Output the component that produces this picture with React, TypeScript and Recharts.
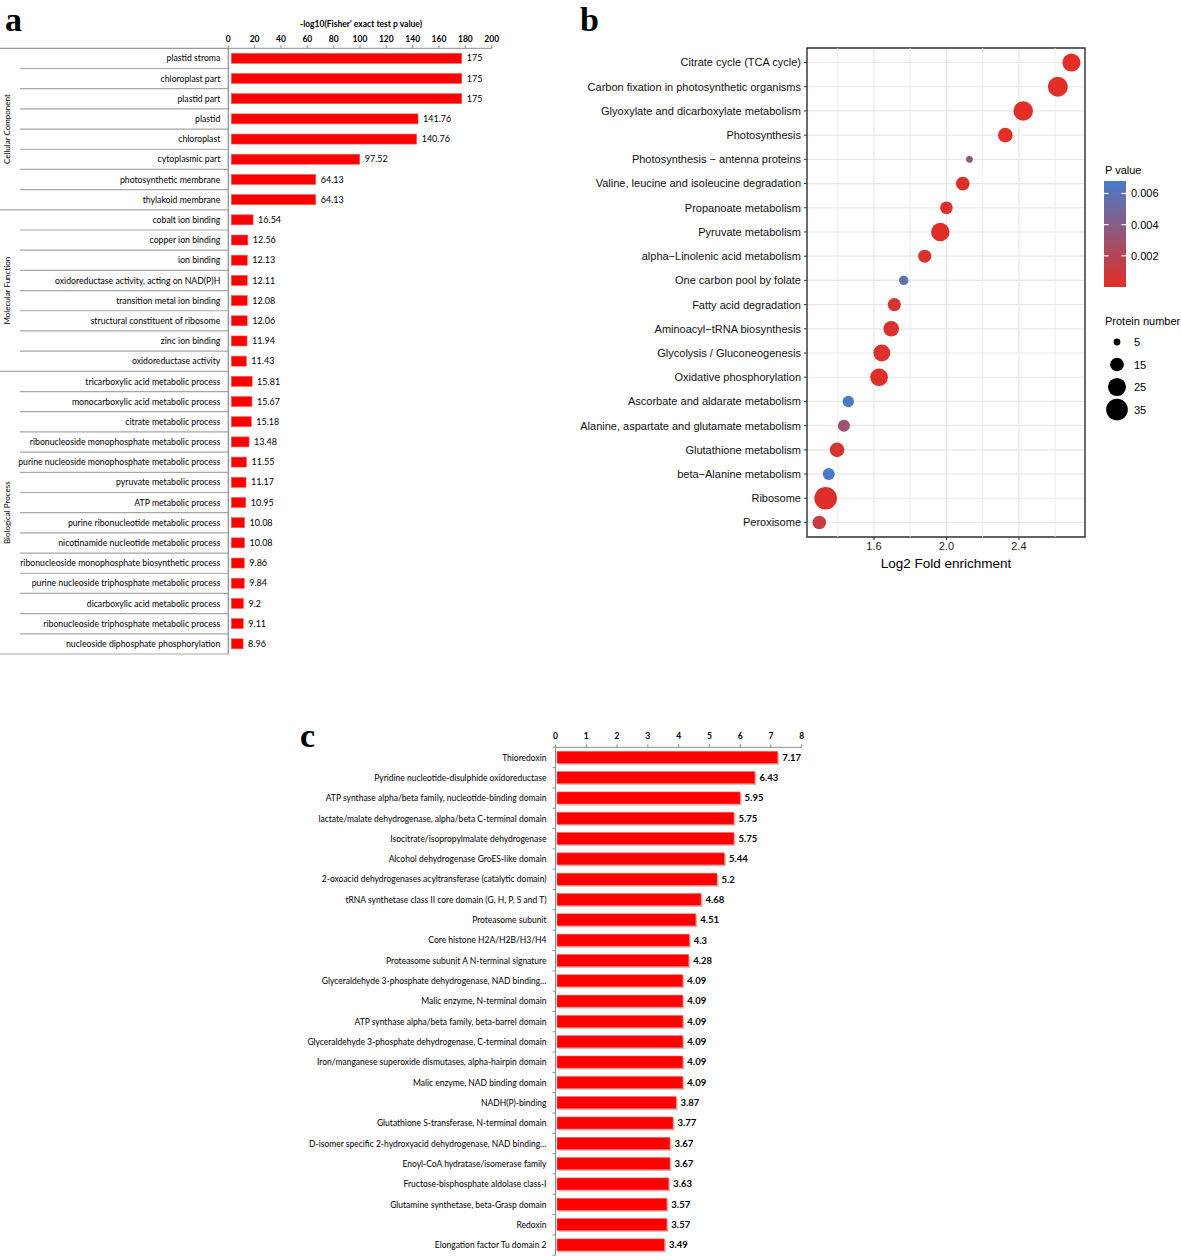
import React from 'react';
import {
  BarChart, Bar, XAxis, YAxis, LabelList, ScatterChart, Scatter, ZAxis,
  CartesianGrid, ReferenceLine, ReferenceArea, Cell,
} from 'recharts';

// ---- panel a : GO enrichment ----
const ccTerms = ['plastid stroma', 'chloroplast part', 'plastid part', 'plastid', 'chloroplast', 'cytoplasmic part', 'photosynthetic membrane', 'thylakoid membrane'];
const ccValues = [175, 175, 175, 141.76, 140.76, 97.52, 64.13, 64.13];
const mfTerms = ['cobalt ion binding', 'copper ion binding', 'ion binding', 'oxidoreductase activity, acting on NAD(P)H', 'transition metal ion binding', 'structural constituent of ribosome', 'zinc ion binding', 'oxidoreductase activity'];
const mfValues = [16.54, 12.56, 12.13, 12.11, 12.08, 12.06, 11.94, 11.43];
const bpTerms = ['tricarboxylic acid metabolic process', 'monocarboxylic acid metabolic process', 'citrate metabolic process', 'ribonucleoside monophosphate metabolic process', 'purine nucleoside monophosphate metabolic process', 'pyruvate metabolic process', 'ATP metabolic process', 'purine ribonucleotide metabolic process', 'nicotinamide nucleotide metabolic process', 'ribonucleoside monophosphate biosynthetic process', 'purine nucleoside triphosphate metabolic process', 'dicarboxylic acid metabolic process', 'ribonucleoside triphosphate metabolic process', 'nucleoside diphosphate phosphorylation'];
const bpValues = [15.81, 15.67, 15.18, 13.48, 11.55, 11.17, 10.95, 10.08, 10.08, 9.86, 9.84, 9.2, 9.11, 8.96];
const groupNames = ['Cellular Component', 'Molecular Function', 'Biological Process'];
const aTicks = [0, 20, 40, 60, 80, 100, 120, 140, 160, 180, 200];

// ---- panel b : KEGG bubble ----
const pathways = ['Citrate cycle (TCA cycle)', 'Carbon fixation in photosynthetic organisms', 'Glyoxylate and dicarboxylate metabolism', 'Photosynthesis', 'Photosynthesis \u2212 antenna proteins', 'Valine, leucine and isoleucine degradation', 'Propanoate metabolism', 'Pyruvate metabolism', 'alpha\u2212Linolenic acid metabolism', 'One carbon pool by folate', 'Fatty acid degradation', 'Aminoacyl\u2212tRNA biosynthesis', 'Glycolysis / Gluconeogenesis', 'Oxidative phosphorylation', 'Ascorbate and aldarate metabolism', 'Alanine, aspartate and glutamate metabolism', 'Glutathione metabolism', 'beta\u2212Alanine metabolism', 'Ribosome', 'Peroxisome'];
const foldEnrich = [2.69, 2.615, 2.424, 2.325, 2.127, 2.09, 2.0, 1.966, 1.88, 1.764, 1.712, 1.695, 1.643, 1.628, 1.458, 1.434, 1.396, 1.35, 1.333, 1.298];
const proteinNum = [25, 30, 29, 17, 5, 15, 13, 26, 14, 8, 14, 19, 22, 24, 11, 12, 17, 12, 38, 15];
const pValues = [0.00002, 0.00001, 0.00001, 0.00003, 0.0036, 0.0002, 0.0003, 0.00005, 0.0003, 0.0058, 0.0004, 0.0003, 0.0002, 0.0001, 0.0066, 0.0031, 0.0005, 0.0068, 0.0002, 0.0011];
const bTicks = [1.6, 2.0, 2.4];
const bMinorTicks = [1.4, 1.8, 2.2, 2.6];
const pLegendTicks = [0.002, 0.004, 0.006];
const sizeLegend = [5, 15, 25, 35];

// ---- panel c : protein domains ----
const domains = ['Thioredoxin', 'Pyridine nucleotide-disulphide oxidoreductase', 'ATP synthase alpha/beta family, nucleotide-binding domain', 'lactate/malate dehydrogenase, alpha/beta C-terminal domain', 'Isocitrate/isopropylmalate dehydrogenase', 'Alcohol dehydrogenase GroES-like domain', '2-oxoacid dehydrogenases acyltransferase (catalytic domain)', 'tRNA synthetase class II core domain (G, H, P, S and T)', 'Proteasome subunit', 'Core histone H2A/H2B/H3/H4', 'Proteasome subunit A N-terminal signature', 'Glyceraldehyde 3-phosphate dehydrogenase, NAD binding\u2026', 'Malic enzyme, N-terminal domain', 'ATP synthase alpha/beta family, beta-barrel domain', 'Glyceraldehyde 3-phosphate dehydrogenase, C-terminal domain', 'Iron/manganese superoxide dismutases, alpha-hairpin domain', 'Malic enzyme, NAD binding domain', 'NADH(P)-binding', 'Glutathione S-transferase, N-terminal domain', 'D-isomer specific 2-hydroxyacid dehydrogenase, NAD binding\u2026', 'Enoyl-CoA hydratase/isomerase family', 'Fructose-bisphosphate aldolase class-I', 'Glutamine synthetase, beta-Grasp domain', 'Redoxin', 'Elongation factor Tu domain 2'];
const domainValues = [7.17, 6.43, 5.95, 5.75, 5.75, 5.44, 5.2, 4.68, 4.51, 4.3, 4.28, 4.09, 4.09, 4.09, 4.09, 4.09, 4.09, 3.87, 3.77, 3.67, 3.67, 3.63, 3.57, 3.57, 3.49];
const cTicks = [0, 1, 2, 3, 4, 5, 6, 7, 8];

const CAL = 'Lato, "Open Sans", sans-serif';
const HEL = '"Liberation Sans", Arial, sans-serif';

const rowsA = [
  ...ccTerms.map((t, i) => ({ term: t, value: ccValues[i] })),
  ...mfTerms.map((t, i) => ({ term: t, value: mfValues[i] })),
  ...bpTerms.map((t, i) => ({ term: t, value: bpValues[i] })),
];
const groupSizes = [ccTerms.length, mfTerms.length, bpTerms.length];
const groupEnds = groupSizes.map((_, g) => groupSizes.slice(0, g + 1).reduce((a, b) => a + b, 0) - 1);

const bData = pathways.map((name, i) => ({ name, idx: i, fold: foldEnrich[i], n: proteinNum[i], p: pValues[i] }));
const cData = domains.map((d, i) => ({ term: d, value: domainValues[i] }));

// chart geometry
const A_W = 500, A_H = 660, A_YW = 228.3, A_TOP = 18, A_XH = 30.3, A_BOT = 6;
const A_ROW = (A_H - A_TOP - A_XH - A_BOT) / rowsA.length;
const C_W = 540, C_H = 556, C_YW = 265.5, C_TOP = 20, C_XH = 27.3, C_BOT = 0.8;
const C_ROW = (C_H - C_TOP - C_XH - C_BOT) / cData.length;

const P_MAX = 0.0068;
const RED = [226, 46, 38];
const BLUE = [72, 124, 201];
function pColor(p: number) {
  const t = Math.max(0, Math.min(1, p / P_MAX));
  const c = RED.map((r, k) => Math.round(r + (BLUE[k] - r) * t));
  return `rgb(${c[0]},${c[1]},${c[2]})`;
}
const Z_DOMAIN = [4, 38];
const Z_RANGE = [25, 400];
function bubbleR(n: number) {
  const area = Z_RANGE[0] + ((n - Z_DOMAIN[0]) / (Z_DOMAIN[1] - Z_DOMAIN[0])) * (Z_RANGE[1] - Z_RANGE[0]);
  return Math.sqrt(area / Math.PI);
}

function TickA(props: any) {
  const { x, y, payload } = props;
  const i = rowsA.findIndex((r) => r.term === payload.value);
  const isEnd = groupEnds.includes(i);
  return (
    <g>
      <text x={x} y={y} dy={3.1} textAnchor="end" fontSize={8.7} fontFamily={CAL} fill="#000">{payload.value}</text>
      {i === 0 && <line x1={0} x2={A_YW} y1={y - A_ROW / 2} y2={y - A_ROW / 2} stroke="#999" strokeWidth={1.2} />}
      <line x1={isEnd ? 0 : 20} x2={A_YW} y1={y + A_ROW / 2} y2={y + A_ROW / 2} stroke="#a6a6a6" strokeWidth={1.2} />
    </g>
  );
}

function TickB(props: any) {
  const { x, y, payload } = props;
  return (
    <text x={x} y={y} dy={3.9} textAnchor="end" fontSize={11} fontFamily={HEL} fill="#111">
      {pathways[payload.value]}
    </text>
  );
}

function TickC(props: any) {
  const { x, y, payload } = props;
  const i = domains.indexOf(payload.value);
  const ax = C_YW;
  return (
    <g>
      <text x={x} y={y} dy={3.1} textAnchor="end" fontSize={8.5} fontFamily={CAL} fill="#000">{payload.value}</text>
      <line x1={ax - 3} x2={ax} y1={y + C_ROW / 2} y2={y + C_ROW / 2} stroke="#8c8c8c" />
      {i === 0 && <line x1={ax - 3} x2={ax} y1={y - C_ROW / 2} y2={y - C_ROW / 2} stroke="#8c8c8c" />}
    </g>
  );
}

const BarA = (p: any) => (
  <rect x={p.x + 3} y={p.y} width={p.width} height={p.height} fill="#ff0000" stroke="#ff5a5a" strokeWidth={0.6} />
);

const BarC = (p: any) => (
  <g>
    <rect x={p.x + 3} y={p.y + 1.5} width={p.width} height={p.height} fill="#c4c4c4" />
    <rect x={p.x + 1.5} y={p.y} width={p.width} height={p.height} fill="#ff0000" stroke="#ff6464" strokeWidth={0.6} />
  </g>
);

export default function App() {
  return (
    <div style={{ position: 'absolute', left: 0, top: 0, width: 1181, height: 1256, background: '#fff' }}>
      {/* panel a */}
      <div style={{ position: 'absolute', left: 0, top: 0 }}>
        <BarChart layout="vertical" width={A_W} height={A_H} data={rowsA}
          margin={{ top: A_TOP, right: A_W - A_YW - 263.4, bottom: A_BOT, left: 0 }}>
          <XAxis type="number" orientation="top" domain={[0, 200]} ticks={aTicks} interval={0}
            height={A_XH} tickSize={3} tickMargin={3}
            axisLine={{ stroke: '#8c8c8c' }} tickLine={{ stroke: '#8c8c8c' }}
            tick={{ fontSize: 8.5, fontWeight: 700, fontFamily: CAL, fill: '#000' }} />
          <YAxis type="category" dataKey="term" width={A_YW} interval={0} tickSize={0} tickMargin={8}
            axisLine={{ stroke: '#8c8c8c', strokeWidth: 1.2 }} tickLine={false} tick={TickA} />
          <Bar dataKey="value" barSize={10} shape={BarA} isAnimationActive={false}>
            <LabelList dataKey="value" position="right" offset={8} fontSize={9} fontFamily={CAL} fill="#000" />
          </Bar>
        </BarChart>
      </div>

      {/* panel b */}
      <div style={{ position: 'absolute', left: 570, top: 0 }}>
        <ScatterChart width={520} height={600} margin={{ top: 48, right: 5, bottom: 43, left: 0 }}>
          <CartesianGrid stroke="#e8e8e8" strokeWidth={1.2} />
          {bMinorTicks.map((v) => (
            <ReferenceLine key={v} x={v} stroke="#ebebeb" strokeWidth={0.9} />
          ))}
          <XAxis type="number" dataKey="fold" domain={[1.23, 2.765]} ticks={bTicks} interval={0}
            allowDataOverflow height={20} tickSize={3} tickMargin={2}
            tickFormatter={(v: number) => v.toFixed(1)} axisLine={false} tickLine={{ stroke: '#333' }}
            tick={{ fontSize: 11, fontFamily: HEL, fill: '#222' }} />
          <YAxis type="number" dataKey="idx" domain={[-0.6, pathways.length - 0.4]} reversed
            ticks={pathways.map((_, i) => i)} interval={0} width={237} tickSize={3} tickMargin={3}
            axisLine={false} tickLine={{ stroke: '#333' }} tick={TickB} />
          <ZAxis type="number" dataKey="n" domain={Z_DOMAIN} range={Z_RANGE} />
          <Scatter data={bData} isAnimationActive={false}>
            {bData.map((d, i) => <Cell key={i} fill={pColor(d.p)} />)}
          </Scatter>
          <ReferenceArea x1={1.23} x2={2.765} y1={-0.6} y2={pathways.length - 0.4}
            fill="none" stroke="#333" strokeWidth={1.4} ifOverflow="visible" />
        </ScatterChart>
      </div>

      {/* panel c */}
      <div style={{ position: 'absolute', left: 290, top: 700 }}>
        <BarChart layout="vertical" width={C_W} height={C_H} data={cData}
          margin={{ top: C_TOP, right: C_W - C_YW - 246.2, bottom: C_BOT, left: 0 }}>
          <XAxis type="number" orientation="top" domain={[0, 8]} ticks={cTicks} interval={0}
            height={C_XH} tickSize={3} tickMargin={5}
            axisLine={{ stroke: '#8c8c8c' }} tickLine={{ stroke: '#8c8c8c' }}
            tick={{ fontSize: 8.5, fontWeight: 700, fontFamily: CAL, fill: '#000' }} />
          <YAxis type="category" dataKey="term" width={C_YW} interval={0} tickSize={0} tickMargin={9}
            axisLine={{ stroke: '#8c8c8c' }} tickLine={false} tick={TickC} />
          <Bar dataKey="value" barSize={12} shape={BarC} isAnimationActive={false}>
            <LabelList dataKey="value" position="right" offset={6} fontSize={9.5} fontWeight={700} fontFamily={CAL} fill="#000" />
          </Bar>
        </BarChart>
      </div>

      {/* titles, panel letters, legends */}
      <svg width={1181} height={1256} style={{ position: 'absolute', left: 0, top: 0, pointerEvents: 'none' }}>
        <g fontFamily='"Liberation Serif", "Times New Roman", serif' fontWeight={700} fontSize={34} fill="#000">
          <text x={5} y={31}>a</text>
          <text x={580} y={31}>b</text>
          <text x={300} y={747}>c</text>
        </g>
        <text x={361} y={27} textAnchor="middle" fontSize={8.5} fontWeight={700} fontFamily={CAL} fill="#000">
          -log10(Fisher' exact test p value)
        </text>
        {groupNames.map((g, k) => {
          const start = groupSizes.slice(0, k).reduce((a, b) => a + b, 0);
          const cy = A_TOP + A_XH + (start + groupSizes[k] / 2) * A_ROW;
          return (
            <text key={g} x={0} y={0} transform={`translate(10, ${cy}) rotate(-90)`} textAnchor="middle"
              fontSize={8} fontFamily={CAL} fill="#000">{g}</text>
          );
        })}
        <text x={946} y={568} textAnchor="middle" fontSize={13.5} fontFamily={HEL} fill="#000">Log2 Fold enrichment</text>

        <defs>
          <linearGradient id="pgrad" x1="0" y1="1" x2="0" y2="0">
            <stop offset="0" stopColor={pColor(0)} />
            <stop offset="0.5" stopColor={pColor(P_MAX / 2)} />
            <stop offset="1" stopColor={pColor(P_MAX)} />
          </linearGradient>
        </defs>
        <g fontFamily={HEL} fontSize={11} fill="#000">
          <text x={1105} y={174}>P value</text>
          <rect x={1104} y={181} width={22} height={106} fill="url(#pgrad)" />
          {pLegendTicks.map((v) => {
            const y = 287 - (v / P_MAX) * 106;
            return (
              <g key={v}>
                <line x1={1104} x2={1108.5} y1={y} y2={y} stroke="#fff" strokeWidth={1.2} />
                <line x1={1121.5} x2={1126} y1={y} y2={y} stroke="#fff" strokeWidth={1.2} />
                <text x={1131} y={y + 4}>{v.toFixed(3)}</text>
              </g>
            );
          })}
          <text x={1105} y={325}>Protein number</text>
          {sizeLegend.map((n, k) => {
            const cy = 342 + k * 22.5;
            return (
              <g key={n}>
                <circle cx={1117} cy={cy} r={bubbleR(n)} fill="#000" />
                <text x={1134} y={cy + 4}>{n}</text>
              </g>
            );
          })}
        </g>
      </svg>
    </div>
  );
}
